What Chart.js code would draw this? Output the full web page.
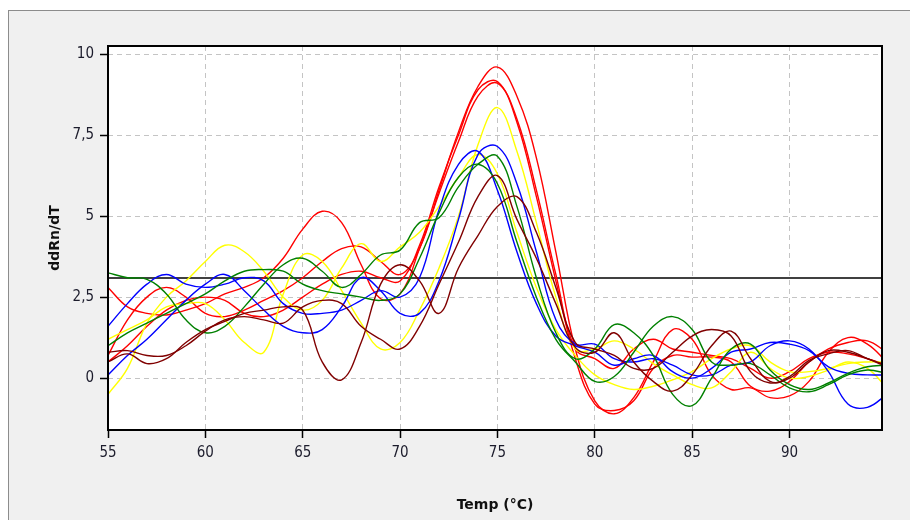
<!DOCTYPE html>
<html>
<head>
<meta charset="utf-8">
<script src="https://cdn.jsdelivr.net/npm/chart.js@4/dist/chart.umd.min.js"></script>
<style>
  body { margin: 0; background: #fff; width: 910px; height: 520px; overflow: hidden; position: relative; }
  #panel { position: absolute; left: 8px; top: 10px; width: 902px; height: 510px; background: #f0f0f0;
           border-top: 1px solid #8c8c8c; border-left: 1px solid #8c8c8c; }
  #grafico { position: absolute; left: 0; top: 0; }
</style>
</head>
<body>
<div id="panel"></div>
<canvas id="grafico" width="910" height="520"></canvas>
<script>
// temperaturas (°C) de cada muestra
const temps = [55,56,57,58,59,60,61,62,63,64,65,66,67,68,69,70,71,72,73,74,75,76,77,78,79,80,81,82,83,84,85,86,87,88,89,90,91,92,93,94,95];

const rojo1 = [0.7,1.8,2.5,2.8,2.5,2.0,1.9,2.1,2.4,2.7,3.1,3.6,4.0,4.05,3.6,3.2,4.0,5.8,7.6,9.0,9.6,8.7,6.8,3.9,0.9,-0.7,-1.1,-0.6,0.5,1.5,1.2,0.1,-0.35,-0.3,-0.6,-0.55,-0.1,0.8,1.25,1.05,0.5];
const rojo2 = [0.5,1.0,1.6,2.1,2.4,2.5,2.4,2.0,1.9,2.1,2.5,2.9,3.2,3.3,3.1,3.0,4.1,5.9,7.5,8.9,9.15,7.9,5.6,3.0,0.6,-0.8,-1.0,-0.7,0.3,0.7,0.65,0.65,0.5,-0.25,-0.4,-0.1,0.5,0.9,1.1,1.15,0.8];
const rojo3 = [2.8,2.2,2.0,1.95,2.1,2.3,2.6,2.8,3.1,3.7,4.6,5.15,4.8,3.5,2.45,2.6,4.0,5.7,7.3,8.7,9.1,8.0,5.8,3.2,0.9,0.6,0.3,0.9,1.2,0.9,0.8,0.7,0.6,0.3,0.0,0.2,0.6,0.8,0.75,0.6,0.4];
const amarillo1 = [1.2,1.5,1.8,2.2,2.3,2.3,1.8,1.1,0.8,2.6,3.8,3.6,2.7,1.7,0.9,1.1,2.1,3.4,5.0,7.2,8.35,7.0,4.8,2.5,0.9,0.9,1.15,0.9,0.45,0.1,-0.2,-0.3,0.2,0.8,0.3,0.0,0.05,0.25,0.5,0.3,-0.3];
const amarillo2 = [-0.5,0.3,1.7,2.5,3.0,3.6,4.1,3.9,3.3,2.5,2.1,2.4,3.4,4.15,3.6,4.05,4.5,5.3,6.2,6.9,6.3,4.5,2.8,1.5,0.7,0.1,-0.2,-0.35,-0.25,-0.05,0.2,0.6,0.9,1.0,0.5,0.2,0.2,0.3,0.45,0.5,0.5];
const azul1 = [0.1,0.7,1.2,1.8,2.4,2.9,3.2,2.7,2.1,1.6,1.4,1.5,2.2,3.1,2.7,2.0,2.0,3.0,4.9,6.9,7.15,6.0,3.9,1.8,1.05,1.05,0.6,0.5,0.6,0.4,0.1,0.1,0.4,0.5,1.0,1.15,0.9,0.2,-0.8,-0.9,-0.5];
const azul2 = [1.6,2.3,2.9,3.2,2.9,2.8,2.9,3.1,3.0,2.3,2.0,2.0,2.1,2.4,2.7,2.5,3.1,5.2,6.6,7.0,5.8,3.9,2.3,1.3,1.0,0.8,0.4,0.6,0.7,0.2,0.0,0.3,0.8,0.9,1.1,1.05,0.85,0.35,0.15,0.1,0.1];
const verde1 = [3.25,3.1,3.05,2.6,1.8,1.4,1.6,2.2,2.9,3.5,3.7,3.3,2.8,3.2,3.8,3.95,4.8,4.95,5.9,6.6,6.85,5.3,3.1,1.4,0.6,0.9,1.65,1.4,0.7,-0.5,-0.85,0.0,0.9,1.05,0.25,-0.2,-0.35,-0.15,0.15,0.35,0.4];
const verde2 = [1.0,1.4,1.7,2.0,2.3,2.6,3.0,3.3,3.35,3.3,2.9,2.7,2.6,2.5,2.4,2.6,3.7,5.1,6.2,6.6,6.0,4.2,2.5,1.2,0.5,-0.1,0.05,0.8,1.6,1.9,1.5,0.5,0.4,0.45,0.1,-0.3,-0.42,-0.2,0.1,0.25,0.15];
const marron1 = [0.8,0.85,0.7,0.7,1.0,1.45,1.8,1.9,1.8,1.7,2.2,2.4,2.3,1.6,1.2,0.9,1.6,2.9,4.2,5.6,6.25,4.9,3.7,2.3,0.95,0.8,1.4,0.5,-0.1,-0.4,0.1,1.0,1.45,0.6,-0.1,0.0,0.5,0.85,0.8,0.6,0.35];
const marron2 = [0.5,0.75,0.45,0.6,1.1,1.5,1.75,2.0,2.1,2.2,2.1,0.5,-0.05,1.1,2.9,3.5,3.0,2.0,3.4,4.4,5.3,5.6,4.5,2.8,1.1,0.9,0.7,0.3,0.3,0.8,1.3,1.5,1.3,0.2,-0.15,0.05,0.55,0.75,0.85,0.6,0.4];

// línea de umbral
const umbralX = [55, 95];
const umbralY = [3.09, 3.09];

const ticksX = [55, 60, 65, 70, 75, 80, 85, 90];
const ticksY = [0, 2.5, 5, 7.5, 10];

const series = [
  { datos: marron2, color: "#800000" },
  { datos: marron1, color: "#800000" },
  { datos: verde2, color: "#008000" },
  { datos: verde1, color: "#008000" },
  { datos: azul2, color: "#0000ff" },
  { datos: azul1, color: "#0000ff" },
  { datos: amarillo2, color: "#ffff00" },
  { datos: amarillo1, color: "#ffff00" },
  { datos: rojo3, color: "#ff0000" },
  { datos: rojo2, color: "#ff0000" },
  { datos: rojo1, color: "#ff0000" }
];

const datasets = series.map(s => ({
  data: temps.map((t, i) => ({ x: t, y: s.datos[i] })),
  borderColor: s.color,
  borderWidth: 1.4,
  pointRadius: 0,
  tension: 0.4,
  fill: false
}));

datasets.push({
  data: umbralX.map((t, i) => ({ x: t, y: umbralY[i] })),
  borderColor: "#000",
  borderWidth: 1.6,
  pointRadius: 0,
  tension: 0
});

// fondo blanco y marco negro del área del gráfico
const marco = {
  id: "marco",
  beforeDraw(chart) {
    const { ctx, chartArea: a } = chart;
    ctx.save();
    ctx.fillStyle = "#fff";
    ctx.fillRect(a.left, a.top, a.right - a.left, a.bottom - a.top);
    ctx.restore();
  },
  afterDraw(chart) {
    const { ctx, chartArea: a } = chart;
    ctx.save();
    ctx.strokeStyle = "#000";
    ctx.lineWidth = 2;
    ctx.strokeRect(a.left, a.top, a.right - a.left, a.bottom - a.top);
    ctx.restore();
  }
};

const fuenteTicks = { family: "'Liberation Sans Narrow', 'DejaVu Sans Condensed', 'Liberation Sans', sans-serif", size: 15 };
const fuenteTitulo = { family: "'DejaVu Sans', sans-serif", size: 14, weight: "bold" };

new Chart(document.getElementById("grafico"), {
  type: "line",
  data: { datasets },
  plugins: [marco],
  options: {
    responsive: false,
    animation: false,
    layout: { padding: { top: 46, right: 28, left: 0, bottom: 0 } },
    plugins: { legend: { display: false }, tooltip: { enabled: false } },
    scales: {
      x: {
        type: "linear",
        min: 55,
        max: 94.75,
        afterBuildTicks: s => { s.ticks = ticksX.map(v => ({ value: v })); },
        afterFit: s => { s.height = 90; },
        ticks: { color: "#1c1c2c", font: fuenteTicks, padding: 6, maxRotation: 0 },
        grid: { color: "#c4c4c4", tickColor: "#000", tickLength: 8, tickBorderDash: [], tickWidth: 1.5 },
        border: { display: false, dash: [5, 4] },
        title: { display: true, text: "Temp (°C)", color: "#111", font: fuenteTitulo, padding: { bottom: 6 } }
      },
      y: {
        min: -1.6,
        max: 10.25,
        afterBuildTicks: s => { s.ticks = ticksY.map(v => ({ value: v })); },
        afterFit: s => { s.width = 108; },
        ticks: { color: "#1c1c2c", font: fuenteTicks, padding: 6, callback: v => String(v).replace(".", ",") },
        grid: { color: "#c4c4c4", tickColor: "#000", tickLength: 8, tickBorderDash: [], tickWidth: 1.5 },
        border: { display: false, dash: [5, 4] },
        title: { display: true, text: "ddRn/dT", color: "#111", font: fuenteTitulo, padding: { top: 47 } }
      }
    }
  }
});
</script>
</body>
</html>
